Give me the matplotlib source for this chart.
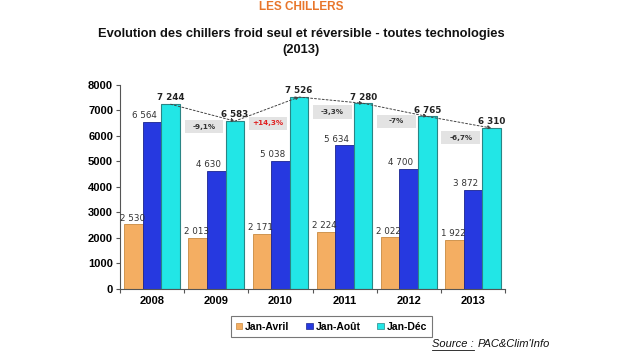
import matplotlib
matplotlib.use("Agg")
import matplotlib.pyplot as plt
import numpy as np
from matplotlib.patches import Patch, Rectangle

years = ["2008", "2009", "2010", "2011", "2012", "2013"]
jan_avril = [2530, 2013, 2171, 2224, 2022, 1922]
jan_aout = [6564, 4630, 5038, 5634, 4700, 3872]
jan_dec = [7244, 6583, 7526, 7280, 6765, 6310]
evolutions = ["-9,1%", "+14,3%", "-3,3%", "-7%", "-6,7%"]
evo_y = [6370, 6490, 6940, 6570, 5940]
series_names = ["Jan-Avril", "Jan-Août", "Jan-Déc"]

def fmt(v):
    return f"{v:,}".replace(",", " ")

plt.rcParams['font.family'] = ['Liberation Sans', 'DejaVu Sans']
fig = plt.figure(figsize=(6.25, 3.54), dpi=100)
fig.patch.set_facecolor("white")
ax = fig.add_axes([0.192, 0.1836, 0.616, 0.5764])

x = np.arange(len(years))
w = 0.29
c_or, c_bl, c_cy = "#F4AE62", "#2639E0", "#22E6E6"
e_or, e_bl, e_cy = "#C98A40", "#1A2490", "#2A8585"
ax.bar(x - w, jan_avril, w, color=c_or, edgecolor=e_or, linewidth=0.6)
ax.bar(x, jan_aout, w, color=c_bl, edgecolor=e_bl, linewidth=0.6)
ax.bar(x + w, jan_dec, w, color=c_cy, edgecolor=e_cy, linewidth=0.8)

for i in range(len(years)):
    ax.text(x[i] - w - 0.02, jan_avril[i] + 70, fmt(jan_avril[i]), ha="center", va="bottom",
            fontsize=6.3, color="#333333", family=["DejaVu Sans"])
    ax.text(x[i] - 0.12, jan_aout[i] + 70, fmt(jan_aout[i]), ha="center", va="bottom",
            fontsize=6.3, color="#333333", family=["DejaVu Sans"])
    ax.text(x[i] + w, jan_dec[i] + 70, fmt(jan_dec[i]), ha="center", va="bottom",
            fontsize=6.3, color="#222222", fontweight="bold", family=["DejaVu Sans"])

for i in range(len(years) - 1):
    ax.annotate("", xy=(x[i + 1] + w, jan_dec[i + 1]), xytext=(x[i] + w, jan_dec[i]),
                arrowprops=dict(arrowstyle="-|>", linestyle=(0, (2, 2)), color="#444444",
                                lw=0.7, mutation_scale=5, shrinkA=0, shrinkB=0))
    col = "#E02020" if evolutions[i].startswith("+") else "#333333"
    bw, bh = 0.6, 520
    ax.add_patch(Rectangle((i + 0.81 - bw / 2, evo_y[i] - bh / 2), bw, bh,
                           facecolor="#E3E3E3", edgecolor="none", zorder=2))
    ax.text(i + 0.81, evo_y[i], evolutions[i], ha="center", va="center", fontsize=5.2,
            fontweight="bold", color=col, family=["DejaVu Sans"], zorder=3)

ax.set_xlim(-0.5, 5.5)
ax.set_ylim(0, 8000)
ax.set_yticks(range(0, 8001, 1000))
ax.tick_params(axis="y", labelsize=8, length=3, width=0.8, color="#555555", pad=2)
for lab in ax.get_yticklabels():
    lab.set_fontweight("bold")
ax.set_xticks(np.arange(-0.5, 5.6, 1))
ax.set_xticklabels([])
ax.tick_params(axis="x", which="major", length=3, width=0.8, color="#555555")
ax.set_xticks(x, minor=True)
ax.set_xticklabels(years, minor=True, fontsize=8, fontweight="bold")
ax.tick_params(axis="x", which="minor", length=0, pad=5)
for s in ["top", "right"]:
    ax.spines[s].set_visible(False)
for s in ["left", "bottom"]:
    ax.spines[s].set_color("#555555")
    ax.spines[s].set_linewidth(0.8)

handles = [Patch(facecolor=c, edgecolor=e, linewidth=0.5) for c, e in
           [(c_or, e_or), (c_bl, e_bl), (c_cy, e_cy)]]
leg = fig.legend(handles, series_names, loc="center", bbox_to_anchor=(331.5 / 625, 1 - 326.5 / 354),
                 ncol=3, frameon=True, fancybox=False, handlelength=0.6,
                 handleheight=0.6, handletextpad=0.3, columnspacing=1.6, borderpad=0.5,
                 prop={"weight": "bold", "size": 7.5})
leg.get_frame().set_edgecolor("#555555")
leg.get_frame().set_linewidth(0.8)

cx = 301 / 625
fig.text(cx, 1 - 7 / 354, "LES CHILLERS", ha="center", va="center", fontsize=8.5,
         fontweight="bold", color="#E8762B")
fig.text(cx, 1 - 34 / 354, "Evolution des chillers froid seul et réversible - toutes technologies",
         ha="center", va="center", fontsize=9.3, fontweight="bold", color="#111111")
fig.text(cx, 1 - 50 / 354, "(2013)", ha="center", va="center", fontsize=9.3,
         fontweight="bold", color="#111111")

src = fig.text(432 / 625, 1 - 344 / 354, "Source :", ha="left", va="center", fontsize=8,
               style="italic", color="#111111")
fig.canvas.draw()
bb = src.get_window_extent(renderer=fig.canvas.get_renderer())
x_end = bb.x1 / fig.bbox.width
fig.text(x_end + 4 / 625, 1 - 344 / 354, "PAC&Clim'Info", ha="left", va="center", fontsize=8,
         style="italic", color="#111111")
fig.lines.append(plt.Line2D([432 / 625, x_end], [1 - 349.5 / 354] * 2, color="#111111",
                            lw=0.6, transform=fig.transFigure))

fig.savefig("out.png", dpi=100)
